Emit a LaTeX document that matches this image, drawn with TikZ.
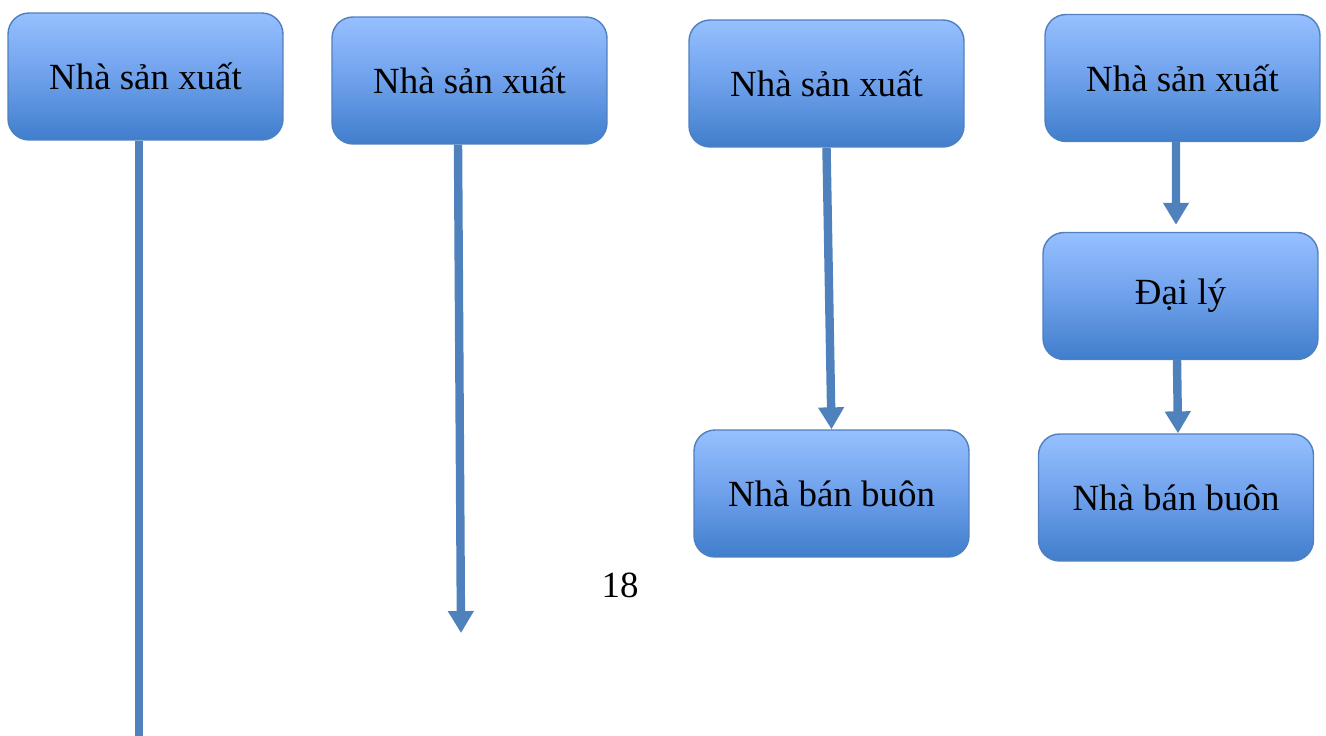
\documentclass[tikz,border=0pt]{standalone}
\usepackage{fontspec}
\setmainfont{Liberation Serif}
\usepackage{tikz}
\usetikzlibrary{positioning}
\usetikzlibrary{arrows,arrows.meta}
\definecolor{boxtop}{RGB}{150,192,255}
\definecolor{boxmid}{RGB}{110,160,235}
\definecolor{boxbot}{RGB}{64,126,204}
\definecolor{boxline}{RGB}{80,128,190}
\definecolor{arrowcol}{RGB}{79,129,189}
\tikzstyle{block} = [draw=boxline, line width=0.8pt, rectangle, rounded corners=0.42cm, top color=boxtop, bottom color=boxbot, middle color=boxmid, minimum width=5.5cm, minimum height=2.54cm, font=\fontsize{21}{25}\selectfont, text=black]
\tikzstyle{flow} = [draw=arrowcol, line width=4.8pt, -{Triangle[width=14pt,length=12.5pt]}]
\tikzstyle{line} = [draw=arrowcol, line width=4.8pt]
\tikzstyle{coord} = [coordinate]

\begin{document}
\begin{tikzpicture}[x=0.02cm, y=-0.02cm]
	\useasboundingbox (0,0) rectangle (1326,735);
	% first column
	\node [block] (nsx1) at (145.5,76.5) {Nhà sản xuất};
	\coordinate (end1) at (139,740);
	% second column
	\node [block] (nsx2) at (469.5,80.5) {Nhà sản xuất};
	\coordinate (end2) at (461,633);
	% third column
	\node [block] (nsx3) at (826.5,83.5) {Nhà sản xuất};
	\node [block] (nbb3) at (831.5,493.5) {Nhà bán buôn};
	% fourth column
	\node [block] (nsx4) at (1182.5,78) {Nhà sản xuất};
	\node [block] (daily) at (1180.5,296) {Đại lý};
	\node [block] (nbb4) at (1176,497.5) {Nhà bán buôn};
	\node [font=\fontsize{21}{25}\selectfont] (trang) at (620,585) {18};

	\draw [line] (nsx1.south -| end1) -- (end1);
	\draw [flow] ([xshift=-0.23cm]nsx2.south) -- (end2);
	\draw [flow] (nsx3.south) -- (nbb3.north);
	\draw [flow] ([xshift=-0.13cm]nsx4.south) -- ([xshift=-0.09cm,yshift=0.14cm]daily.north);
	\draw [flow] ([xshift=-0.07cm]daily.south) -- ([xshift=0.04cm]nbb4.north);
\end{tikzpicture}
\end{document}
